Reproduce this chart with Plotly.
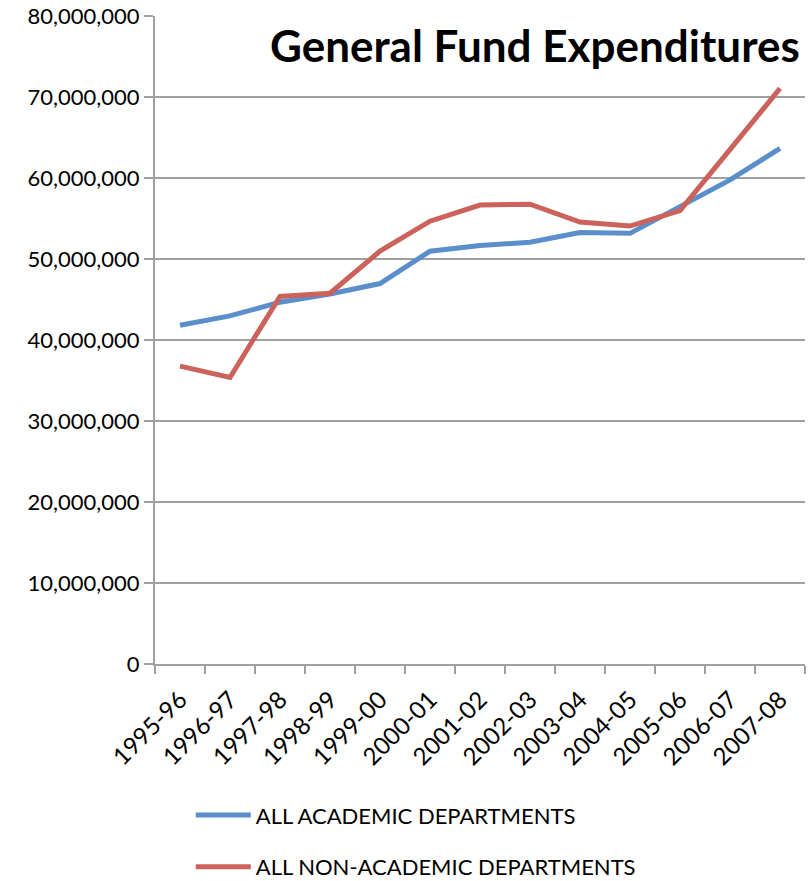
import plotly.graph_objects as go

years = ["1995-96", "1996-97", "1997-98", "1998-99", "1999-00", "2000-01", "2001-02",
         "2002-03", "2003-04", "2004-05", "2005-06", "2006-07", "2007-08"]
academic = [41.85e6, 43.0e6, 44.7e6, 45.7e6, 47.0e6, 51.0e6, 51.7e6,
            52.1e6, 53.3e6, 53.2e6, 56.5e6, 59.8e6, 63.7e6]
non_academic = [36.8e6, 35.4e6, 45.4e6, 45.8e6, 51.0e6, 54.7e6, 56.7e6,
                56.8e6, 54.6e6, 54.1e6, 56.0e6, 63.6e6, 71.1e6]
y_ticks = [0, 10e6, 20e6, 30e6, 40e6, 50e6, 60e6, 70e6, 80e6]
y_tick_text = ["0", "10,000,000", "20,000,000", "30,000,000", "40,000,000",
               "50,000,000", "60,000,000", "70,000,000", "80,000,000"]

font_family = "Lato, 'Open Sans', sans-serif"

fig = go.Figure()
fig.add_trace(go.Scatter(x=years, y=academic, mode="lines", name="ALL ACADEMIC DEPARTMENTS",
                         legendgroup="a", line=dict(color="#5B8FCB", width=5)))
fig.add_trace(go.Scatter(x=years, y=non_academic, mode="lines", name="ALL NON-ACADEMIC DEPARTMENTS",
                         legendgroup="b", line=dict(color="#CB625B", width=5)))

fig.update_layout(
    width=812, height=881,
    margin=dict(l=155, r=7, t=16, b=217, autoexpand=False),
    paper_bgcolor="white", plot_bgcolor="white",
    font=dict(family=font_family, size=22, color="black"),
    showlegend=True,
    legend=dict(x=0.055, y=-0.201, xanchor="left", yanchor="top", orientation="v",
                font=dict(size=22), tracegroupgap=20, itemwidth=55),
    annotations=[dict(text="<b>General Fund Expenditures</b>", xref="paper", yref="paper",
                      x=0.995, y=0.955, xanchor="right", yanchor="middle", showarrow=False,
                      font=dict(size=44, family=font_family, color="black"))],
)
fig.update_xaxes(type="category", tickangle=-45, showgrid=False, showline=True,
                 linecolor="#A0A0A0", linewidth=2, ticks="outside", tickson="boundaries",
                 ticklen=8, tickcolor="#A0A0A0", tickwidth=2, range=[-0.5, 12.5],
                 tickfont=dict(size=24), automargin=False, ticklabelstandoff=10)
fig.update_yaxes(range=[0, 80.05e6], tickvals=y_ticks, ticktext=y_tick_text, showgrid=True,
                 gridcolor="#A0A0A0", gridwidth=2, showline=True, linecolor="#A0A0A0",
                 linewidth=2, ticks="outside", ticklen=9, tickcolor="#A0A0A0", tickwidth=2,
                 zeroline=False, tickfont=dict(size=22), automargin=False,
                 ticklabelstandoff=0)

fig.write_html("out.html", config={"displayModeBar": False},
               post_script="document.body.style.margin='0px';document.body.style.overflow='hidden';")
